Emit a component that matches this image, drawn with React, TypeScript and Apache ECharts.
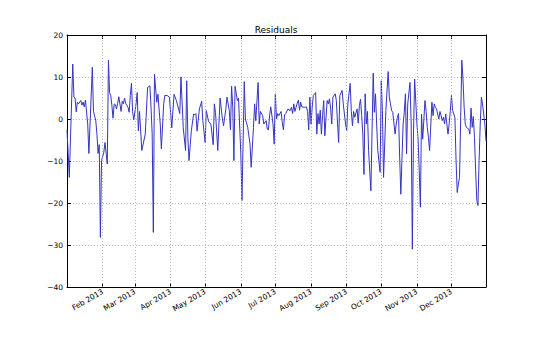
import React, { useEffect, useRef } from "react";
import * as echarts from "echarts";

// Day index (0 = 1 Jan 2013) and residual values
const days: number[] = [
  0, 2, 5, 6, 7, 8, 9, 10, 12, 13, 14, 15, 16, 18, 19, 22, 23, 25, 26, 27, 28, 29, 30, 32, 33, 35, 36, 37, 38, 39,
  40, 41, 42, 43, 44, 45, 47, 48, 49, 50, 51, 53, 54, 55, 56, 57, 58, 60, 61, 62, 63, 65, 68, 70, 72, 73, 74, 75, 76,
  78, 79, 81, 82, 84, 85, 87, 89, 91, 93, 95, 98, 99, 101,
  103, 104, 105, 106, 108, 110, 111, 112, 113, 115, 117, 118, 120, 121, 123, 125, 127, 128, 129, 131, 133, 135, 136,
  138, 139, 141, 142, 143, 144, 145, 146, 148, 149, 151, 152, 154, 155, 157, 159, 160, 162,
  163, 164, 166, 167, 168, 170, 171, 173, 174, 175, 176, 177, 179, 180, 181, 182, 183, 184, 186, 187, 188, 189, 190,
  192, 193, 194, 195, 196, 197, 198, 199,
  200, 201, 202, 203, 204, 206, 207, 208, 209, 210, 211, 212, 213, 214, 216, 217, 218, 219, 220, 221, 222, 223, 224,
  226, 227, 228, 229, 230, 231, 233, 234, 235, 236, 237, 239, 240, 242, 243, 244, 246, 247, 248, 249, 250, 252, 253,
  254, 255, 256, 257, 258, 259,
  260, 261, 262, 264, 266, 267, 268, 269, 270, 272, 273, 274, 275, 277, 279, 280, 281, 282, 283, 285, 286, 287, 288,
  289, 290, 292, 293, 294, 295, 296, 298, 299, 300, 301, 302, 304, 305, 306, 307, 308, 309, 311, 312, 313, 314, 315,
  317, 318, 319, 320, 321, 322,
  323, 324, 325, 326, 327, 328, 329, 331, 332, 333, 334, 335, 337, 338, 339, 340, 341, 343, 344, 345, 346, 347, 349,
  350, 351, 352, 353, 354, 355, 356, 357, 358, 359, 360, 361, 362, 363, 364,
];

const residuals: number[] = [
  -2.6, -13.9, 13.1, 5.2, 5.0, 1.7, 4.0, 3.6, 4.4, 3.3, 4.0, 2.9, 4.5, -1.2, -8.2, 12.3, 1.8, -0.4, -3.6, -8.2, -6.1,
  -28.2, -9.9, -7.9, -5.6, -10.7, 14.0, 6.3, 5.6, 3.2,
  0.2, 3.6, 3.4, 2.4, 3.7, 5.3, 1.8, 4.2, 3.6, 5.0, 3.7, 2.8, 1.6, 5.6, 8.5, 1.8, -0.2, 3.6, 6.3, -2.8, 1.8, -7.5,
  -3.6, 7.5, 7.9, 2.8, -3.6, -27.0, 10.7,
  4.0, 5.9, -1.2, -7.1, 3.6, 5.6, 5.6, 5.2, -2.1, 5.9, 4.4, 1.3, 10.0, -2.1,
  -7.5, 9.1, -4.4, -9.9, -2.8, 1.2, 1.0, 1.3, -2.9, 2.4, 4.2, -0.4, -5.6, 2.0, -0.6, -1.2, -6.1, 3.6, 1.6, -7.5, 5.0,
  0.0, -1.6,
  2.4, 5.2, 2.0, -2.6, 7.8, 2.8, -9.9, 7.8, 4.4, 5.0, -8.3, -19.4, 8.9, 0.0, -2.0, -6.0, -11.5, -2.0,
  3.6, -0.4, 8.7, -1.2, 1.8, 0.8, -1.2, -0.4, -2.4, -2.6, 0.8, 2.9, -1.2, -6.0, 6.0, 0.0, 1.3, 0.8, 1.8, -0.8, -2.6,
  1.0, 1.3, 2.4, 2.1, 2.0, 2.8, 1.3, 3.6, 1.8, 2.8,
  3.7, 4.5, 2.1, 4.0, 2.9, 2.8, 2.8, 2.9, 1.8, -2.6, 5.2, -1.2, 2.8, 5.6, 6.3, -3.6, 1.3, -1.2, 2.1, -3.6, 0.8, 4.4,
  -4.0,
  4.4, 3.6, 4.8, 2.6, -1.2, 5.2, 6.0, 4.4, -1.0, -5.6, 5.6, 6.8, 3.6, -1.2, -2.8, 3.6, 8.5, 1.8, -1.6, 1.8, 0.4, 2.4,
  -1.0, 3.2, 4.7, 0.8, -3.6, -13.2, 6.0,
  -1.2, 1.8, -7.5, -17.1, 10.9, 1.6, 6.0, -1.2, -7.5, -12.7, 9.1, 2.0, -13.9, 2.0, 11.3, 5.2, 3.6, 2.0, 1.6, -3.6,
  -1.2, 0.4, 1.3,
  -9.1, -17.9, -1.2, 1.6, 6.0, -8.3, 3.6, 8.7, -1.2, -31.0, -3.6, 9.5, -1.2, -4.8, -12.3, -21.0, 1.2, -4.8, 4.4, 1.8,
  -2.0, -4.4, -7.5,
  4.0, 0.8, 3.6, 2.8, 2.4, 1.2,
  0.0, 1.8, 0.8, -0.4, 0.4, -1.2, 1.2, -3.6, -1.2, 2.0, 5.6, 2.0, 0.4, -10.0, -17.5, -15.5, -13.9, 14.0,
  9.5, 2.8, -1.2, -2.0, -2.4, -3.6, 2.6, -2.0, 0.6, -4.4, -12.3, -19.4, -20.6, -9.9, -1.2, 5.2, 3.6, 1.2, -1.2, -5.2,
];

// Month-start ticks (day index) and their labels
const monthStarts: number[] = [31, 59, 90, 120, 151, 181, 212, 243, 273, 304, 334];
const monthLabels: string[] = [
  "Feb 2013", "Mar 2013", "Apr 2013", "May 2013", "Jun 2013", "Jul 2013",
  "Aug 2013", "Sep 2013", "Oct 2013", "Nov 2013", "Dec 2013",
];

const FONT = "DejaVu Sans";

export default function App() {
  const ref = useRef<HTMLDivElement>(null);

  useEffect(() => {
    if (!ref.current) return;
    const chart = echarts.init(ref.current, undefined, { renderer: "svg" });
    const seriesData = days.map((d, i) => [d, residuals[i]]);
    const gridColor = "#a8a8a8";
    const spine = { show: true, onZero: false, lineStyle: { color: "#000", width: 1 } };

    chart.setOption({
      animation: false,
      backgroundColor: "#ffffff",
      title: {
        text: "Residuals",
        left: 276,
        top: 24,
        padding: 0,
        textAlign: "center",
        textStyle: { fontFamily: FONT, fontSize: 9, fontWeight: "normal", color: "#000", lineHeight: 11 },
      },
      grid: { left: 67, right: 54, top: 35, bottom: 73, containLabel: false },
      xAxis: [
        {
          type: "value",
          position: "bottom",
          min: 0,
          max: 364,
          axisLine: spine,
          axisTick: { show: true, inside: true, length: 4, customValues: monthStarts, lineStyle: { color: "#000" } },
          axisLabel: {
            show: true,
            customValues: monthStarts,
            rotate: 30,
            margin: 4,
            fontFamily: FONT,
            fontSize: 7.5,
            color: "#000",
            formatter: (v: number) => {
              const i = monthStarts.indexOf(Math.round(v));
              return i >= 0 ? monthLabels[i] : "";
            },
          },
          splitLine: { show: false },
        },
        {
          type: "value",
          position: "top",
          min: 0,
          max: 364,
          axisLine: spine,
          axisTick: { show: true, inside: true, length: 4, customValues: monthStarts, lineStyle: { color: "#000" } },
          axisLabel: { show: false },
          splitLine: { show: false },
        },
      ],
      yAxis: [
        {
          type: "value",
          position: "left",
          min: -40,
          max: 20,
          interval: 10,
          axisLine: spine,
          axisTick: { show: true, inside: true, length: 4, lineStyle: { color: "#000" } },
          axisLabel: {
            margin: 4,
            fontFamily: FONT,
            fontSize: 7.5,
            color: "#000",
            formatter: (v: number) => (v < 0 ? "\u2212" + Math.abs(v) : String(v)),
          },
          splitLine: { show: true, lineStyle: { color: gridColor, width: 0.8, type: [1, 2] } },
        },
        {
          type: "value",
          position: "right",
          min: -40,
          max: 20,
          interval: 10,
          axisLine: spine,
          axisTick: { show: true, inside: true, length: 4, lineStyle: { color: "#000" } },
          axisLabel: { show: false },
          splitLine: { show: false },
        },
      ],
      series: [
        {
          type: "line",
          xAxisIndex: 0,
          yAxisIndex: 0,
          data: seriesData,
          showSymbol: false,
          symbol: "none",
          lineStyle: { color: "#3434c4", width: 1 },
          markLine: {
            silent: true,
            symbol: ["none", "none"],
            label: { show: false },
            lineStyle: { color: gridColor, width: 0.8, type: [1, 2] },
            data: monthStarts.map((d) => ({ xAxis: d })),
          },
          z: 3,
        },
      ],
    });

    return () => chart.dispose();
  }, []);

  return (
    <div
      ref={ref}
      style={{ position: "fixed", left: 0, top: 0, width: 540, height: 360, background: "#fff" }}
    />
  );
}
